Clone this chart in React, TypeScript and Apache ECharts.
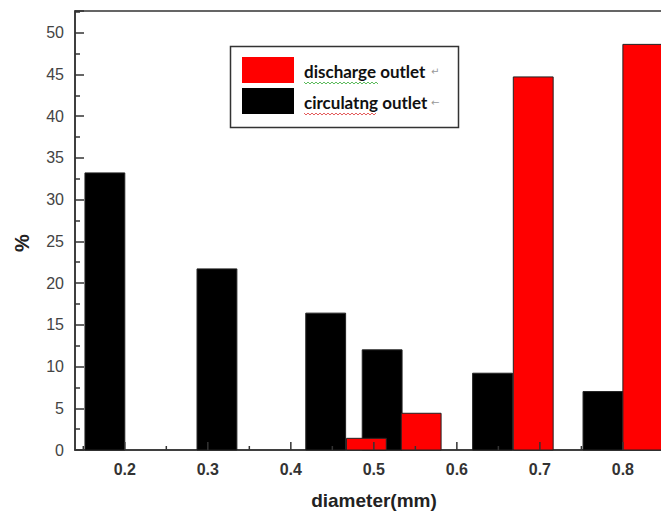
import React, { useEffect, useRef } from "react";
import * as echarts from "echarts";

// x positions (mm) of the bar centres and their heights (%)
const circulatingX = [0.176, 0.311, 0.442, 0.51, 0.643, 0.776];
const circulatingVals = [33.2, 21.7, 16.4, 12.0, 9.2, 7.0];
const dischargeX = [0.491, 0.557, 0.692, 0.824];
const dischargeVals = [1.4, 4.4, 44.7, 48.6];

const xTickLabels = [0.2, 0.3, 0.4, 0.5, 0.6, 0.7, 0.8];
const xMinorTicks = [0.15, 0.25, 0.35, 0.45, 0.55, 0.65, 0.75, 0.85];

const BAR_W = 0.048;

function makeRender(fill: string) {
  return (params: any, api: any) => {
    const x = api.value(0);
    const h = api.value(1);
    const p0 = api.coord([x - BAR_W / 2, h]);
    const p1 = api.coord([x + BAR_W / 2, 0]);
    return {
      type: "rect",
      shape: { x: p0[0], y: p0[1], width: p1[0] - p0[0], height: p1[1] - p0[1] },
      style: { fill, stroke: "#222", lineWidth: 1 },
    };
  };
}

function squiggle(x0: number, x1: number, y: number) {
  const pts: number[][] = [];
  let up = true;
  for (let x = x0; x <= x1; x += 2) {
    pts.push([x, up ? y - 1 : y + 1]);
    up = !up;
  }
  return pts;
}

export default function App() {
  const ref = useRef<HTMLDivElement>(null);
  useEffect(() => {
    const chart = echarts.init(ref.current!, null, { renderer: "svg" });
    const legendFont = "Lato, 'Open Sans', sans-serif";
    const arial = "Arial, 'Liberation Sans', sans-serif";
    const baseGraphics: any[] = [
      {
        type: "text",
        x: 374,
        y: 500,
        style: {
          text: "diameter(mm)",
          fill: "#222",
          font: "bold 19px " + arial,
          align: "center",
          verticalAlign: "middle",
        },
      },
      {
        type: "text",
        x: 22,
        y: 243,
        rotation: Math.PI / 2,
        style: {
          text: "%",
          fill: "#222",
          font: "bold 20px " + arial,
          align: "center",
          verticalAlign: "middle",
        },
      },
      {
        type: "rect",
        shape: { x: 230.5, y: 46.5, width: 228, height: 81 },
        style: { fill: "#fff", stroke: "#333", lineWidth: 1.5 },
        z: 10,
      },
      {
        type: "rect",
        shape: { x: 242, y: 57, width: 52, height: 26 },
        style: { fill: "#ff0000" },
        z: 11,
      },
      {
        type: "rect",
        shape: { x: 242, y: 88, width: 52, height: 26 },
        style: { fill: "#000" },
        z: 11,
      },
      {
        type: "text",
        x: 304,
        y: 71,
        style: {
          text: "discharge outlet",
          fill: "#111",
          font: "bold 17px " + legendFont,
          verticalAlign: "middle",
        },
        z: 11,
      },
      {
        type: "text",
        x: 431,
        y: 71,
        style: { text: "↵", fill: "#999", font: "10px 'DejaVu Sans'", verticalAlign: "middle" },
        z: 11,
      },
      {
        type: "text",
        x: 304,
        y: 102,
        style: {
          text: "circulatng outlet",
          fill: "#111",
          font: "bold 17px " + legendFont,
          verticalAlign: "middle",
        },
        z: 11,
      },
      {
        type: "text",
        x: 431,
        y: 102,
        style: { text: "←", fill: "#999", font: "10px 'DejaVu Sans'", verticalAlign: "middle" },
        z: 11,
      },
      {
        type: "polyline",
        shape: { points: squiggle(304, 378, 83) },
        style: { stroke: "#3a3", lineWidth: 0.8, fill: "none" },
        z: 11,
      },
      {
        type: "polyline",
        shape: { points: squiggle(304, 376, 114) },
        style: { stroke: "#d33", lineWidth: 0.8, fill: "none" },
        z: 11,
      },
    ];
    chart.setOption({
      animation: false,
      backgroundColor: "#fff",
      grid: {
        left: 75,
        top: 11,
        bottom: 63,
        right: 19,
        outerBoundsMode: "none",
        show: true,
        borderColor: "#333",
        borderWidth: 1.5,
        backgroundColor: "transparent",
      },
      xAxis: {
        type: "value",
        min: 0.14,
        max: 0.87,
        splitLine: { show: false },
        axisLine: { lineStyle: { color: "#333", width: 1.5 } },
        axisTick: { show: false },
        axisLabel: {
          customValues: xTickLabels,
          color: "#333",
          fontFamily: arial,
          fontWeight: "bold",
          fontSize: 16,
          margin: 11,
          formatter: (v: number) => v.toFixed(1),
        },
      },
      yAxis: {
        type: "value",
        min: 0,
        max: 52.6,
        interval: 5,
        splitLine: { show: false },
        axisLine: { show: true, lineStyle: { color: "#333", width: 1.5 } },
        axisTick: {
          show: true,
          inside: true,
          length: 9,
          lineStyle: { color: "#333", width: 1.5 },
        },
        minorTick: { show: true, splitNumber: 2, length: 5, lineStyle: { color: "#333", width: 1.5 } },
        axisLabel: {
          color: "#444",
          fontFamily: arial,
          fontSize: 16,
          margin: 11,
          showMaxLabel: false,
        },
      },
      series: [
        {
          type: "custom",
          name: "circulatng outlet",
          renderItem: makeRender("#000"),
          data: circulatingX.map((x, i) => [x, circulatingVals[i]]),
          z: 1,
        },
        {
          type: "custom",
          name: "discharge outlet",
          renderItem: makeRender("#ff0000"),
          data: dischargeX.map((x, i) => [x, dischargeVals[i]]),
          z: 2,
        },
      ],
      graphic: baseGraphics,
    });

    // x-axis ticks placed through the axis scale
    const y0 = chart.convertToPixel({ yAxisIndex: 0 }, 0) as number;
    const tickLines: any[] = [];
    const addTicks = (vals: number[], len: number) => {
      vals.forEach((v) => {
        const px = chart.convertToPixel({ xAxisIndex: 0 }, v) as number;
        tickLines.push({
          type: "line",
          shape: { x1: px, y1: y0, x2: px, y2: y0 - len },
          style: { stroke: "#333", lineWidth: 1.5 },
          z: 5,
        });
      });
    };
    addTicks(xTickLabels, 8);
    addTicks(xMinorTicks, 4);
    chart.setOption({ graphic: [...baseGraphics, ...tickLines] });

    return () => chart.dispose();
  }, []);
  return (
    <div style={{ position: "fixed", left: 0, top: 0, width: 661, height: 513, overflow: "hidden" }}>
      <div ref={ref} style={{ width: 700, height: 513 }} />
    </div>
  );
}
